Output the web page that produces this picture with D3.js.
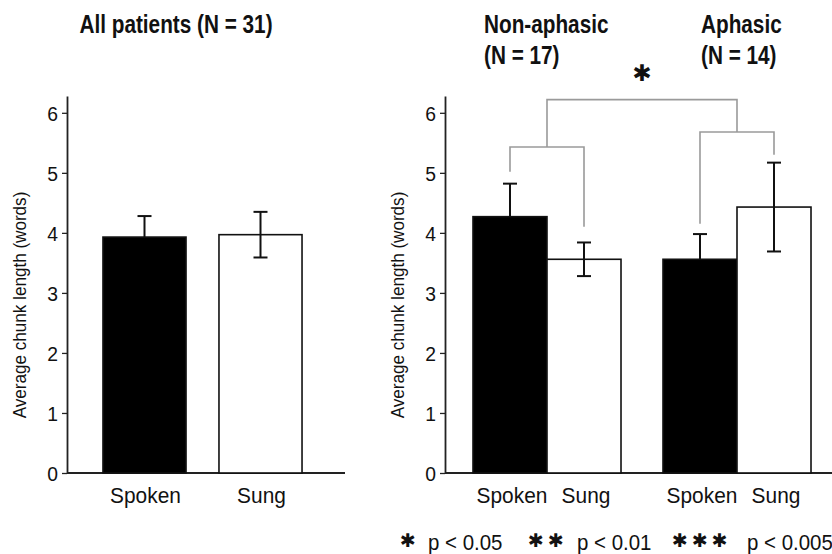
<!DOCTYPE html>
<html><head><meta charset="utf-8">
<script src="https://cdn.jsdelivr.net/npm/d3@7"></script>
<style>
body{margin:0;background:#fff;}
svg{display:block;}
text{font-family:"Liberation Sans Narrow","Arial Narrow","Liberation Sans",Arial,sans-serif;fill:#111;}
</style></head><body>
<svg id="chart" width="832" height="554"></svg>
<script>
// ---- data ----
const conditions = ["Spoken", "Sung"];
const allMeans = [3.93, 3.97];
const allErrors = [0.35, 0.38];
const groups = ["Non-aphasic", "Aphasic"];
const groupNs = ["(N = 17)", "(N = 14)"];
const spokenMeans = [4.27, 3.56];
const spokenErrors = [0.55, 0.42];
const sungMeans = [3.56, 4.43];
const sungErrors = [0.28, 0.74];
const yTicks = [0, 1, 2, 3, 4, 5, 6];
const yMax = 6.28;
// bracket levels (data units)
const groupBracketLevel = [5.43, 5.68];
const groupBracketLegEnds = [[5.02, 4.10], [4.15, 5.30]];
const topBracketLevel = 6.22;
const sigLevel = 6.66;
const sigMark = "\u2731";
const leftTitle = "All patients (N = 31)";
const yLabel = "Average chunk length (words)";
const legendStars = ["\u2731", "\u2731\u2731", "\u2731\u2731\u2731"];
const legendTexts = ["p < 0.05", "p < 0.01", "p < 0.005"];

const svg = d3.select("#chart");
const y = d3.scaleLinear().domain([0, yMax]).range([473, 96]);
const fills = {Spoken: "#000", Sung: "#fff"};

function txt(g, x, yy, s, size, sx, opts = {}) {
  const t = g.append("text")
    .attr("transform", `translate(${x},${yy})${opts.rotate ? " rotate(" + opts.rotate + ")" : ""} scale(${sx},1)`)
    .attr("text-anchor", opts.anchor || "start")
    .style("font-size", size + "px")
    .text(s);
  if (opts.bold) t.style("font-weight", "bold");
  if (opts.fill) t.attr("fill", opts.fill);
  if (opts.family) t.style("font-family", opts.family);
  if (opts.dy) t.attr("dy", opts.dy);
  if (opts.spacing !== undefined) t.style("letter-spacing", opts.spacing + "px");
  return t;
}

function drawAxes(g, x0, x1, labelX) {
  const ax = g.append("g").attr("transform", `translate(${x0},0)`)
    .call(d3.axisLeft(y).tickValues(yTicks).tickSize(5).tickSizeOuter(0).tickPadding(3).tickFormat(d3.format("d")));
  ax.select(".domain").attr("stroke", "#222").attr("stroke-width", 1.8);
  ax.selectAll(".tick line").attr("stroke", "#222").attr("stroke-width", 1.3);
  ax.selectAll(".tick text").style("font-size", "21px").attr("fill", "#222").attr("dy", "0.36em")
    .attr("transform", "scale(0.92,1)").attr("x", -9 / 0.92);
  g.append("line").attr("x1", x0).attr("x2", x1).attr("y1", y(0)).attr("y2", y(0))
    .attr("stroke", "#222").attr("stroke-width", 1.8);
  txt(g, labelX, 305, yLabel, 19, 0.9, {rotate: -90, anchor: "middle", fill: "#333"});
}

function drawBar(g, x, w, cond, mean, err) {
  g.append("rect").attr("x", x).attr("y", y(mean)).attr("width", w).attr("height", y(0) - y(mean))
    .attr("fill", fills[cond]).attr("stroke", "#111").attr("stroke-width", 1.6);
  const cx = x + w / 2;
  const lo = cond === "Spoken" ? mean : mean - err;
  g.append("line").attr("x1", cx).attr("x2", cx).attr("y1", y(mean + err)).attr("y2", y(lo))
    .attr("stroke", "#111").attr("stroke-width", 2);
  g.append("line").attr("x1", cx - 7).attr("x2", cx + 7).attr("y1", y(mean + err)).attr("y2", y(mean + err))
    .attr("stroke", "#111").attr("stroke-width", 2);
  if (cond === "Sung") {
    g.append("line").attr("x1", cx - 7).attr("x2", cx + 7).attr("y1", y(mean - err)).attr("y2", y(mean - err))
      .attr("stroke", "#111").attr("stroke-width", 2);
  }
}

// ---- left panel ----
const L = svg.append("g");
drawAxes(L, 67, 345, 26);
const xL = d3.scaleBand().domain(conditions).range([86.5, 318.5]).paddingInner(0.284).paddingOuter(0.142);
conditions.forEach((c, i) => {
  drawBar(L, xL(c), xL.bandwidth(), c, allMeans[i], allErrors[i]);
  txt(L, xL(c) + xL.bandwidth() / 2 + 1, 503, c, 22, 0.95, {anchor: "middle"});
});
txt(L, 176, 33, leftTitle, 25, 0.83, {anchor: "middle", bold: true});

// ---- right panel ----
const R = svg.append("g");
drawAxes(R, 445, 832, 404);
const xG = d3.scaleBand().domain(groups).range([452, 832]).paddingInner(0.221).paddingOuter(0.1105);
const xC = d3.scaleBand().domain(conditions).range([0, xG.bandwidth()]).padding(0);
const centers = [];
groups.forEach((grp, gi) => {
  const means = [spokenMeans[gi], sungMeans[gi]];
  const errs = [spokenErrors[gi], sungErrors[gi]];
  const cs = [];
  conditions.forEach((c, ci) => {
    const bx = xG(grp) + xC(c);
    drawBar(R, bx, xC.bandwidth(), c, means[ci], errs[ci]);
    cs.push(bx + xC.bandwidth() / 2);
    txt(R, bx + xC.bandwidth() / 2 + 2, 503, c, 22, 0.95, {anchor: "middle"});
  });
  centers.push(cs);
  const tx = xG(grp) + (gi === 0 ? 11 : 38);
  txt(R, tx, 33, grp, 25, 0.83, {bold: true});
  txt(R, tx, 64, groupNs[gi], 25, 0.83, {bold: true});
  // group bracket
  const lvl = groupBracketLevel[gi];
  const legs = groupBracketLegEnds[gi];
  const path = d3.path();
  path.moveTo(cs[0], y(legs[0]));
  path.lineTo(cs[0], y(lvl));
  path.lineTo(cs[1], y(lvl));
  path.lineTo(cs[1], y(legs[1]));
  R.append("path").attr("d", path.toString()).attr("fill", "none").attr("stroke", "#9a9a9a").attr("stroke-width", 1.6);
});
// top bracket
const stems = [(centers[0][0] + centers[0][1]) / 2, (centers[1][0] + centers[1][1]) / 2];
const tp = d3.path();
tp.moveTo(stems[0], y(groupBracketLevel[0]));
tp.lineTo(stems[0], y(topBracketLevel));
tp.lineTo(stems[1], y(topBracketLevel));
tp.lineTo(stems[1], y(groupBracketLevel[1]));
R.append("path").attr("d", tp.toString()).attr("fill", "none").attr("stroke", "#9a9a9a").attr("stroke-width", 1.6);
txt(R, (stems[0] + stems[1]) / 2, y(sigLevel), sigMark, 23, 1, {anchor: "middle", family: "DejaVu Sans", dy: "0.36em", fill: "#111"});

// ---- legend ----
const legStarX = [400, 528, 672];
const legTextX = [428, 577, 747];
legendStars.forEach((s, i) => {
  txt(svg, legStarX[i], 547, s, 19, 1, {family: "DejaVu Sans", fill: "#111", spacing: 4});
  txt(svg, legTextX[i], 550, legendTexts[i], 22, 0.93, {fill: "#222"});
});
</script>
</body></html>
